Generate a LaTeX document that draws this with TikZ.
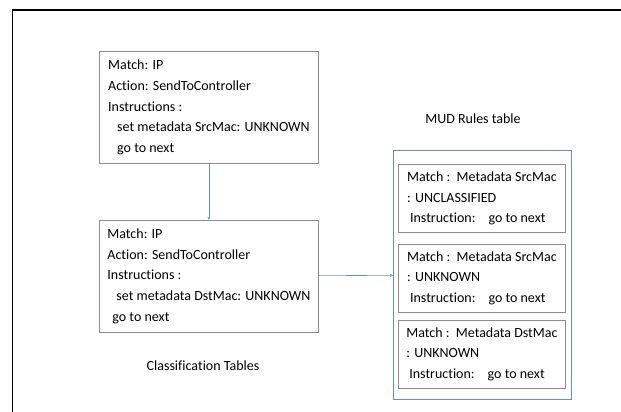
\documentclass[tikz,border=0pt]{standalone}
\usepackage{fontspec}
\setmainfont{Carlito}[Ligatures=NoCommon]
\usetikzlibrary{arrows.meta,positioning}
\definecolor{boksgraa}{RGB}{140,140,140}
\definecolor{pilblaa}{RGB}{100,140,210}
\tikzset{
    %Define standard arrow tip
    >={Stealth[length=3pt,width=3pt]},
    %Define style for the table boxes
    boks/.style={
        rectangle,
        draw=boksgraa, line width=0.8pt,
        anchor=north west,
        align=left,
        inner xsep=5pt, inner ysep=4pt,
        minimum width=219pt,
        minimum height=112pt,
        font=\fontsize{14}{20.6}\selectfont},
    % Define style for the rule boxes
    regel/.style={
        boks,
        minimum width=167pt,
        minimum height=68pt},
    % Define style for the outer frame
    ramme/.style={
        rectangle,
        draw=pilblaa, line width=0.8pt,
        anchor=north west,
        minimum width=178pt,
        minimum height=249pt},
    etikett/.style={font=\fontsize{14}{17}\selectfont},
    % Define arrow style
    pil/.style={
        ->,
        draw=pilblaa,
        line width=0.6pt}
}
\begin{document}
\begin{tikzpicture}[x=1pt, y=-1pt, node distance=56pt]
    \useasboundingbox (0,0) rectangle (621,412);
    % page frame
    \draw[line width=1.5pt] (12.5,412) -- (12.5,10) -- (621,10);
    %nodes
    \node[boks] (tbl1) at (99,51)
        {Match: IP\\
         Action: SendToController\\
         Instructions :\\
         \hspace*{9pt}set metadata SrcMac: UNKNOWN\\
         \hspace*{9pt}go to next};
    \node[boks, below=of tbl1.south west, anchor=north west] (tbl2)
        {Match: IP\\
         Action: SendToController\\
         Instructions :\\
         \hspace*{9pt}set metadata DstMac: UNKNOWN\\
         \hspace*{5pt}go to next};
    \node[etikett] (ctlabel) at (203,366) {Classification Tables};
    % MUD rules table
    \node[ramme] (mud) at (393,150) {};
    \node[etikett] (mudlabel) at (473,119) {MUD Rules table};
    \node[regel] (r1) at (398,164)
        {Match :\ \ Metadata SrcMac\\
         : UNCLASSIFIED\\
         \hspace*{3pt}Instruction:\hspace*{13pt}go to next};
    \node[regel, below=11pt of r1.south west, anchor=north west] (r2)
        {Match :\ \ Metadata SrcMac\\
         : UNKNOWN\\
         \hspace*{3pt}Instruction:\hspace*{13pt}go to next};
    \node[regel, below=7pt of r2.south west, anchor=north west] (r3)
        {Match :\ \ Metadata DstMac\\
         : UNKNOWN\\
         \hspace*{3pt}Instruction:\hspace*{13pt}go to next};
    % connectors
    \draw[pil] (tbl1) -- (tbl2);
    \draw[pil] (tbl2) -- (mud);
\end{tikzpicture}
\end{document}
